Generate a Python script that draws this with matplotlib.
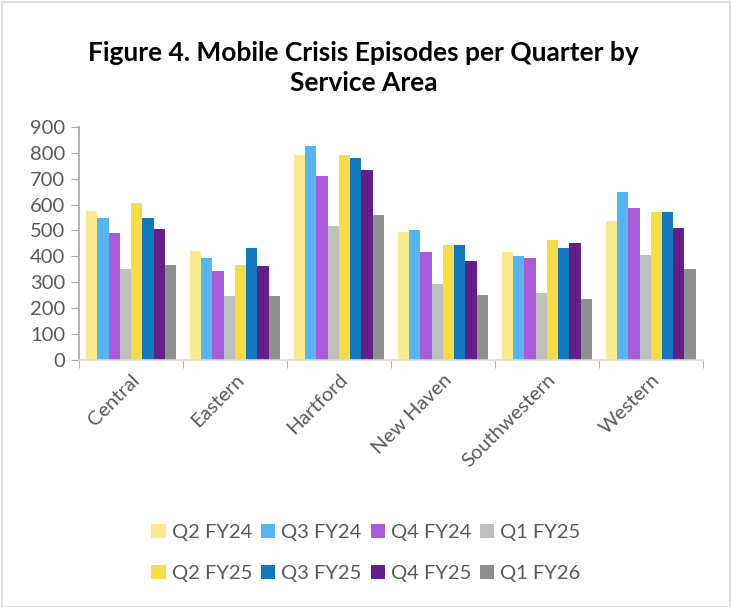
import numpy as np
import matplotlib.pyplot as plt
from matplotlib.patches import Rectangle

areas = ['Central', 'Eastern', 'Hartford', 'New Haven', 'Southwestern', 'Western']
quarters = ['Q2 FY24', 'Q3 FY24', 'Q4 FY24', 'Q1 FY25',
            'Q2 FY25', 'Q3 FY25', 'Q4 FY25', 'Q1 FY26']
q2_fy24 = [576, 420, 790, 494, 417, 538]
q3_fy24 = [547, 393, 825, 500, 403, 648]
q4_fy24 = [489, 345, 711, 415, 393, 586]
q1_fy25 = [353, 246, 517, 292, 257, 407]
q2_fy25 = [605, 367, 790, 445, 464, 573]
q3_fy25 = [548, 434, 780, 443, 432, 570]
q4_fy25 = [504, 361, 733, 381, 450, 509]
q1_fy26 = [365, 246, 560, 252, 237, 353]
series = [q2_fy24, q3_fy24, q4_fy24, q1_fy25, q2_fy25, q3_fy25, q4_fy25, q1_fy26]
colors = ['#fbe98f', '#56b4ef', '#a95bd9', '#bfbfbf',
          '#f9dc4a', '#1178bd', '#63208a', '#8f8f8f']

plt.rcParams['font.family'] = ['Lato', 'DejaVu Sans']
txt = '#595959'
axc = '#a6a6a6'

fig = plt.figure(figsize=(7.32, 6.07), dpi=100)
ax = fig.add_axes([0.108, 0.407, 0.852, 0.384])
fig.patches.append(Rectangle((0.003, 0.0), 0.994, 0.997, transform=fig.transFigure,
                             fill=False, edgecolor='#d9d9d9', lw=1.2))

x = np.arange(len(areas))
n = len(series)
w = 0.865 / n
bars = []
for i, vals in enumerate(series):
    b = ax.bar(x - 0.865 / 2 + w * (i + 0.5), vals, w, color=colors[i], label=quarters[i])
    bars.append(b)

ax.set_xlim(-0.5, len(areas) - 0.5)
ax.set_ylim(0, 900)
ax.set_yticks(range(0, 901, 100))
ax.set_xticks(x)
ax.set_xticklabels(areas, rotation=45, ha='right', rotation_mode='anchor')
ax.set_xticks(np.arange(-0.5, len(areas)), minor=True)
ax.tick_params(axis='x', which='major', length=0, pad=8, labelsize=14.5, labelcolor=txt)
ax.tick_params(axis='x', which='minor', length=6, color=axc)
ax.tick_params(axis='y', length=6, color=axc, labelsize=14.5, labelcolor=txt, pad=4)
for s in ['top', 'right']:
    ax.spines[s].set_visible(False)
ax.spines['left'].set_color(axc)
ax.spines['bottom'].set_color('#d9d9d9')
ax.spines['left'].set_linewidth(1.2)
ax.spines['bottom'].set_linewidth(1.2)

fig.text(0.497, 0.888, 'Figure 4. Mobile Crisis Episodes per Quarter by\nService Area',
         ha='center', va='center', fontsize=19, fontweight='bold', color='black',
         linespacing=1.3)

# legend filled row by row
order = [0, 4, 1, 5, 2, 6, 3, 7]
fig.legend([bars[i] for i in order], [quarters[i] for i in order],
           loc='center', bbox_to_anchor=(0.5, 0.089), ncol=4, frameon=False,
           fontsize=14.5, labelcolor=txt, handlelength=0.7, handleheight=0.7,
           handletextpad=0.3, columnspacing=0.45, labelspacing=1.15)

fig.savefig('out.png', dpi=100)
